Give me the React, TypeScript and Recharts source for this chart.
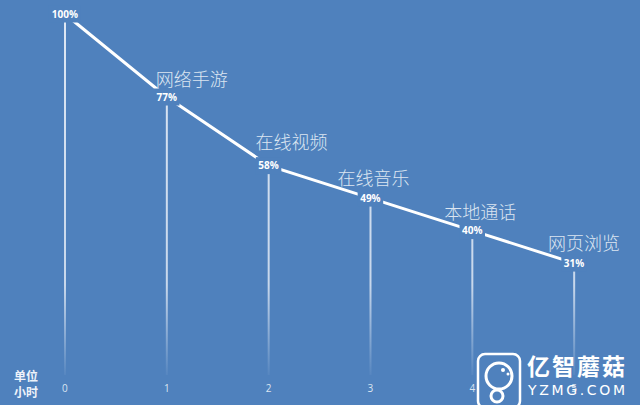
import React from 'react';
import { ComposedChart, Line, Bar, XAxis, YAxis, LabelList } from 'recharts';

const hours = ['0', '1', '2', '3', '4', '5'];
const remaining = [100, 77, 58, 49, 40, 31];
const activities = ['', '网络手游', '在线视频', '在线音乐', '本地通话', '网页浏览'];
// label nudges (style only): [dx of text start from point, dy of text centre]
const nameNudges: [number, number][] = [[0, 0], [-11, -17], [-13, -23], [-33, -19], [-28, -18], [-26, -19]];

const data = hours.map((h, i) => ({ hour: h, value: remaining[i], name: activities[i] }));

const BG = '#4f81bd';

const PctLabel = (props: any) => {
  const { x, y, value } = props;
  const text = `${value}%`;
  const w = text.length * 6.5 + 6;
  return (
    <g>
      <rect x={x - w / 2} y={y - 8.5} width={w} height={17} fill={BG} />
      <text x={x} y={y} dy="0.35em" textAnchor="middle" fill="#ffffff" fontSize={10} fontWeight="bold" fontFamily="'Open Sans', 'Liberation Sans', sans-serif">{text}</text>
    </g>
  );
};

const NameLabel = (props: any) => {
  const { x, y, index } = props;
  const name = activities[index];
  if (!name) return null;
  const [dx, dy] = nameNudges[index];
  return (
    <text x={x + dx} y={y + dy} dy="0.35em" textAnchor="start" fill="#dbe5f1" fontSize={18} fontWeight={300} fontFamily="'Noto Sans CJK SC', sans-serif">{name}</text>
  );
};

export default function App() {
  return (
    <div style={{ position: 'absolute', left: 0, top: 0, width: 640, height: 405, background: BG, overflow: 'hidden' }}>
      <ComposedChart width={640} height={405} data={data} margin={{ top: 14, right: 15, bottom: 0, left: 14 }}>
        <defs>
          <linearGradient id="dropFade" gradientUnits="userSpaceOnUse" x1="0" y1="14" x2="0" y2="375">
            <stop offset="0" stopColor="#e6edf7" stopOpacity={0.95} />
            <stop offset="0.75" stopColor="#e6edf7" stopOpacity={0.8} />
            <stop offset="1" stopColor="#e6edf7" stopOpacity={0.05} />
          </linearGradient>
        </defs>
        <XAxis dataKey="hour" axisLine={false} tickLine={false} tickSize={0} tickMargin={10} height={30}
          tick={{ fill: '#dbe5f1', fontSize: 10, fontFamily: "'Open Sans', 'Liberation Sans', sans-serif" }} interval={0} />
        <YAxis hide domain={[0, 100]} />
        <Bar dataKey="value" barSize={2} fill="url(#dropFade)" isAnimationActive={false} />
        <Line dataKey="value" stroke="#ffffff" strokeWidth={3} dot={false} activeDot={false} isAnimationActive={false}>
          <LabelList dataKey="value" content={PctLabel} />
          <LabelList dataKey="name" content={NameLabel} />
        </Line>
      </ComposedChart>
      <svg width={640} height={405} style={{ position: 'absolute', left: 0, top: 0 }}>
        <text x={14} y={377} dy="0.35em" fill="#eef3fa" fontSize={12} fontWeight="bold" fontFamily="'Noto Sans CJK SC', sans-serif">单位</text>
        <text x={14} y={393} dy="0.35em" fill="#eef3fa" fontSize={12} fontWeight="bold" fontFamily="'Noto Sans CJK SC', sans-serif">小时</text>
        <g>
          <rect x={478} y={354} width={42} height={54} rx={7} fill={BG} stroke="#ffffff" strokeWidth={2.5} />
          <circle cx={499} cy={376} r={13} fill="none" stroke="#ffffff" strokeWidth={3} />
          <circle cx={503} cy={370} r={2} fill="#ffffff" />
          <circle cx={508} cy={374} r={1.5} fill="#ffffff" />
          <circle cx={497} cy={396} r={6} fill="none" stroke="#ffffff" strokeWidth={3} />
          <text x={527} y={367} dy="0.35em" fill="#ffffff" fontSize={23} fontWeight="bold" fontFamily="'Noto Sans CJK SC', sans-serif" textLength={98}>亿智蘑菇</text>
          <text x={528} y={390} dy="0.35em" fill="#ffffff" fontSize={14} fontFamily="'DejaVu Sans', sans-serif" textLength={97}>YZMG.COM</text>
        </g>
      </svg>
    </div>
  );
}
